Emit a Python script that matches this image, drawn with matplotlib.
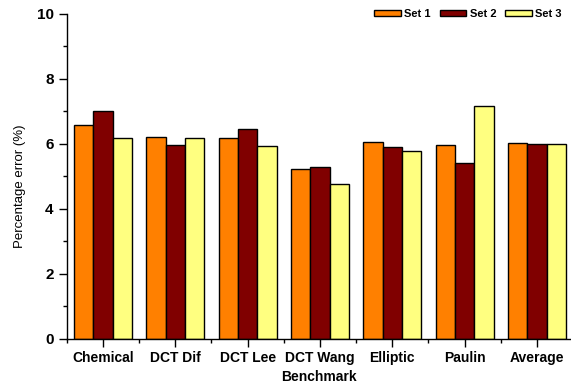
import matplotlib
matplotlib.use("Agg")
import matplotlib.pyplot as plt
import numpy as np
from matplotlib.ticker import MultipleLocator, FixedLocator

categories = ["Chemical", "DCT Dif", "DCT Lee", "DCT Wang", "Elliptic", "Paulin", "Average"]
set1 = [6.58, 6.20, 6.17, 5.22, 6.05, 5.97, 6.03]
set2 = [7.02, 5.97, 6.47, 5.30, 5.91, 5.42, 6.01]
set3 = [6.18, 6.17, 5.95, 4.77, 5.78, 7.17, 6.00]
series_names = ["Set 1", "Set 2", "Set 3"]
colors = ["#FF8000", "#800000", "#FFFF80"]

plt.rcParams['font.family'] = ['Liberation Sans', 'DejaVu Sans']

fig = plt.figure(figsize=(5.71, 3.86), dpi=100)
ax = fig.add_axes([0.117, 0.122, 0.883, 0.842])

x = np.arange(len(categories))
w = 0.8 / 3
for i, (vals, name, c) in enumerate(zip([set1, set2, set3], series_names, colors)):
    ax.bar(x + (i - 1) * w, vals, width=w, color=c, edgecolor="black", linewidth=1.0, label=name)

ax.set_xlim(-0.5, 6.47)
ax.set_ylim(0, 10)
ax.spines['top'].set_visible(False)
ax.spines['right'].set_visible(False)
ax.spines['left'].set_linewidth(1.0)
ax.spines['bottom'].set_linewidth(1.0)

ax.set_xticks(x)
ax.set_xticklabels(categories, fontsize=10, fontweight='bold')
ax.xaxis.set_minor_locator(FixedLocator(np.arange(-0.5, 6.6, 1.0)))
ax.yaxis.set_major_locator(MultipleLocator(2))
ax.yaxis.set_minor_locator(MultipleLocator(1))
for lab in ax.get_yticklabels():
    lab.set_fontsize(11)
    lab.set_fontweight('bold')
ax.tick_params(axis='both', which='major', length=6, width=1.0, direction='out')
ax.tick_params(axis='both', which='minor', length=3, width=1.0, direction='out')
ax.tick_params(axis='x', pad=3)

ax.set_xlabel("Benchmark", fontsize=10, fontweight='bold', labelpad=3)
ax.set_ylabel("Percentage error (%)", fontsize=9.5)
ax.yaxis.set_label_coords(-0.08, 0.47)

ax.legend(loc='upper right', bbox_to_anchor=(0.995, 1.035), ncol=3, frameon=False,
          prop={'size': 8, 'weight': 'bold'}, handlelength=2.4, handleheight=0.5,
          handletextpad=0.3, columnspacing=0.8, borderaxespad=0.2)

fig.savefig("out.png", dpi=100)
